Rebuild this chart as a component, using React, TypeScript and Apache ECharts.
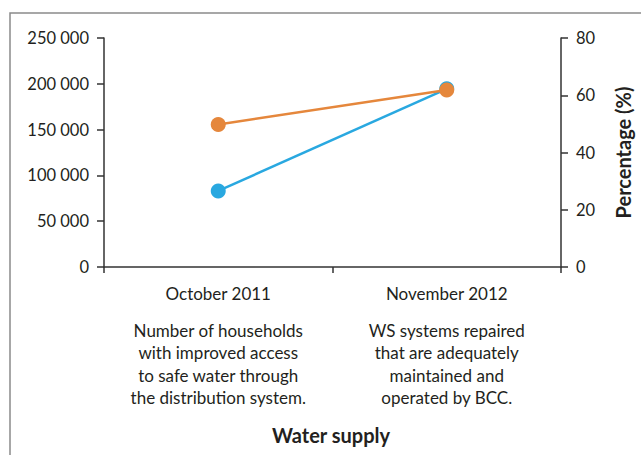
import React, { useEffect, useRef } from "react";
import * as echarts from "echarts";

const categories = ["October 2011", "November 2012"];
const descriptions = [
  ["Number of households", "with improved access", "to safe water through", "the distribution system."],
  ["WS systems repaired", "that are adequately", "maintained and", "operated by BCC."],
];
const households = [83000, 194500];
const percentage = [49.8, 61.8];
const leftTicks = { min: 0, max: 250000, interval: 50000 };
const rightTicks = { min: 0, max: 80, interval: 20 };
const xTitle = "Water supply";
const rightTitle = "Percentage (%)";

const FONT = "Lato, 'Open Sans', sans-serif";
const TEXT = "#231f20";

export default function App() {
  const ref = useRef<HTMLDivElement>(null);
  useEffect(() => {
    if (!ref.current) return;
    const chart = echarts.init(ref.current, undefined, { renderer: "svg" });
    const labelMap: Record<string, string> = {};
    categories.forEach((c, i) => {
      labelMap[c] = `{a|${c}}\n` + descriptions[i].map((d) => `{b|${d}}`).join("\n");
    });
    chart.setOption({
      animation: false,
      textStyle: { fontFamily: FONT, color: TEXT },
      grid: { left: 104, right: 75, top: 38, bottom: 188, containLabel: false },
      graphic: [
        {
          type: "rect",
          shape: { x: 10, y: 13, width: 700, height: 500 },
          style: { fill: "none", stroke: "#8a8a8a", lineWidth: 1.5 },
          silent: true,
        },
        {
          type: "text",
          x: 331,
          y: 435,
          style: {
            text: xTitle,
            font: `bold 20px ${FONT}`,
            fill: TEXT,
            align: "center",
            verticalAlign: "middle",
          },
        },
      ],
      xAxis: {
        type: "category",
        data: categories,
        boundaryGap: true,
        axisLine: { lineStyle: { color: "#333", width: 1.5 } },
        axisTick: { show: true, length: 6, lineStyle: { color: "#333", width: 1.5 } },
        axisLabel: {
          margin: 0,
          interval: 0,
          formatter: (v: string) => labelMap[v],
          rich: {
            a: { fontFamily: FONT, fontSize: 17, color: TEXT, lineHeight: 52, align: "center" },
            b: { fontFamily: FONT, fontSize: 17, color: TEXT, lineHeight: 22.5, align: "center" },
          },
        },
      },
      yAxis: [
        {
          type: "value",
          ...leftTicks,
          position: "left",
          axisLine: { show: true, lineStyle: { color: "#333", width: 1.5 } },
          axisTick: { show: true, length: 7, lineStyle: { color: "#333", width: 1.5 } },
          splitLine: { show: false },
          axisLabel: {
            margin: 15,
            fontSize: 16.5,
            color: TEXT,
            fontFamily: FONT,
            formatter: (v: number) => String(v).replace(/\B(?=(\d{3})+(?!\d))/g, " "),
          },
        },
        {
          type: "value",
          ...rightTicks,
          position: "right",
          name: rightTitle,
          nameLocation: "middle",
          nameRotate: 90,
          nameGap: 52,
          nameTextStyle: { fontFamily: FONT, fontSize: 20, fontWeight: "bold", color: TEXT },
          axisLine: { show: true, lineStyle: { color: "#333", width: 1.5 } },
          axisTick: { show: true, length: 7, lineStyle: { color: "#333", width: 1.5 } },
          splitLine: { show: false },
          axisLabel: { margin: 15, fontSize: 16.5, color: TEXT, fontFamily: FONT },
        },
      ],
      series: [
        {
          name: "Households",
          type: "line",
          yAxisIndex: 0,
          data: households,
          symbol: "circle",
          symbolSize: 15,
          lineStyle: { color: "#29a8e0", width: 2.5 },
          itemStyle: { color: "#29a8e0" },
          z: 2,
        },
        {
          name: "Percentage",
          type: "line",
          yAxisIndex: 1,
          data: percentage,
          symbol: "circle",
          symbolSize: 15,
          lineStyle: { color: "#e5873c", width: 2.5 },
          itemStyle: { color: "#e5873c" },
          z: 3,
        },
      ],
    });
    return () => chart.dispose();
  }, []);
  return <div ref={ref} style={{ width: 641, height: 455, position: "absolute", left: 0, top: 0 }} />;
}
